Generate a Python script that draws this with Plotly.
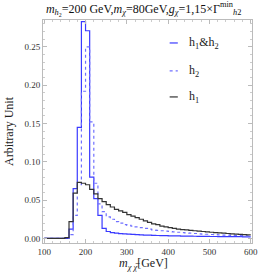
import plotly.graph_objects as go

bin_edges = list(range(100, 610, 10))
h1h2 = [0, 0, 0, 0, 0, 0, 0.012, 0.065, 0.145, 0.283, 0.271, 0.080, 0.052, 0.030, 0.013, 0.009,
        0.0075, 0.0068, 0.0062, 0.0058, 0.0055, 0.0052, 0.0049, 0.0046, 0.0044, 0.0042, 0.0040,
        0.0038, 0.0036, 0.0035, 0.0034, 0.0033, 0.0032, 0.0031, 0.0030, 0.0029, 0.0028, 0.0027,
        0.0026, 0.0026, 0.0025, 0.0025, 0.0024, 0.0024, 0.0023, 0.0023, 0.0022, 0.0022, 0.0021, 0.0021]
h2 = [0, 0, 0, 0, 0, 0, 0.005, 0.030, 0.070, 0.192, 0.250, 0.152, 0.072, 0.045, 0.035, 0.028,
      0.025, 0.022, 0.020, 0.018, 0.017, 0.016, 0.015, 0.014, 0.013, 0.012, 0.011, 0.0105,
      0.010, 0.0095, 0.009, 0.0085, 0.008, 0.0076, 0.0072, 0.0068, 0.0064, 0.006, 0.0057,
      0.0054, 0.0051, 0.0048, 0.0046, 0.0044, 0.0042, 0.0040, 0.0038, 0.0036, 0.0034, 0.0032]
h1 = [0, 0, 0, 0, 0, 0.001, 0.022, 0.059, 0.073, 0.072, 0.070, 0.064, 0.058, 0.052, 0.048, 0.044,
      0.041, 0.038, 0.036, 0.034, 0.031, 0.029, 0.027, 0.025, 0.023, 0.021, 0.019, 0.018,
      0.016, 0.015, 0.014, 0.013, 0.012, 0.0115, 0.011, 0.0105, 0.010, 0.0095, 0.009, 0.0085,
      0.008, 0.0076, 0.0072, 0.0068, 0.0064, 0.006, 0.0056, 0.0052, 0.0048, 0.0045]

series = [
    ("h<sub>1</sub>&h<sub>2</sub>", h1h2, "#3a3aff", "solid"),
    ("h<sub>2</sub>", h2, "#7070ff", "dot"),
    ("h<sub>1</sub>", h1, "#333333", "solid"),
]

serif = "Liberation Serif, Times New Roman, serif"

fig = go.Figure()
legend_y = [0.897, 0.772, 0.655]
for i, (name, vals, col, dash) in enumerate(series):
    fig.add_trace(go.Scatter(
        x=bin_edges, y=list(vals) + [vals[-1]], mode="lines", name=name,
        line=dict(color=col, width=1.2, dash=dash, shape="hv"),
        showlegend=False,
    ))
    fig.add_shape(type="line", xref="paper", yref="paper",
                  x0=0.606, x1=0.645, y0=legend_y[i], y1=legend_y[i],
                  line=dict(color=col, width=1.2, dash=dash))
    fig.add_annotation(xref="paper", yref="paper", x=0.69, y=legend_y[i],
                       xanchor="left", yanchor="middle", showarrow=False,
                       text=name, font=dict(family=serif, size=12, color="#222"))

fig.add_annotation(xref="paper", yref="paper", x=0.48, y=-0.095,
                   xanchor="center", yanchor="middle", showarrow=False,
                   text="<i>m</i><sub><i>χ</i> <i>χ̅</i></sub>[GeV]",
                   font=dict(family=serif, size=12, color="#222"))

fig.update_layout(
    width=266, height=275,
    margin=dict(l=40, r=8, t=20, b=32),
    paper_bgcolor="white", plot_bgcolor="white",
    showlegend=False,
    title=dict(text="<i>m</i><sub><i>h</i><sub>2</sub></sub>=200 GeV,<i>m</i><sub><i>χ</i></sub>=80GeV,<i>g</i><sub><i>χ</i></sub>=1,15×Γ<sup>min</sup><sub><i>h</i>2</sub>",
               x=0.54, xanchor="center", y=0.985, yanchor="top",
               font=dict(family=serif, size=12, color="#111")),
    font=dict(family=serif),
)
fig.update_xaxes(range=[97, 603], showgrid=False, zeroline=False,
                 showline=True, linecolor="#bbbbbb", linewidth=1, mirror="ticks",
                 ticks="inside", ticklen=4, tickcolor="#bbbbbb",
                 tickvals=[100, 200, 300, 400, 500, 600],
                 minor=dict(ticks="inside", ticklen=2, dtick=20, tickcolor="#cccccc"),
                 tickfont=dict(family=serif, size=9, color="#333"))
fig.update_yaxes(range=[-0.006, 0.285], showgrid=False, zeroline=False,
                 showline=True, linecolor="#bbbbbb", linewidth=1, mirror="ticks",
                 ticks="inside", ticklen=4, tickcolor="#bbbbbb",
                 tickvals=[0, 0.05, 0.10, 0.15, 0.20, 0.25],
                 ticktext=["0.00", "0.05", "0.10", "0.15", "0.20", "0.25"],
                 minor=dict(ticks="inside", ticklen=2, dtick=0.01, tickcolor="#cccccc"),
                 tickfont=dict(family=serif, size=9, color="#333"),
                 title=dict(text="Arbitrary Unit", font=dict(family=serif, size=12, color="#222"), standoff=8))

fig.write_html("out.html",
               config={"displayModeBar": False},
               post_script="document.body.style.margin='0';document.body.style.overflow='hidden';")
